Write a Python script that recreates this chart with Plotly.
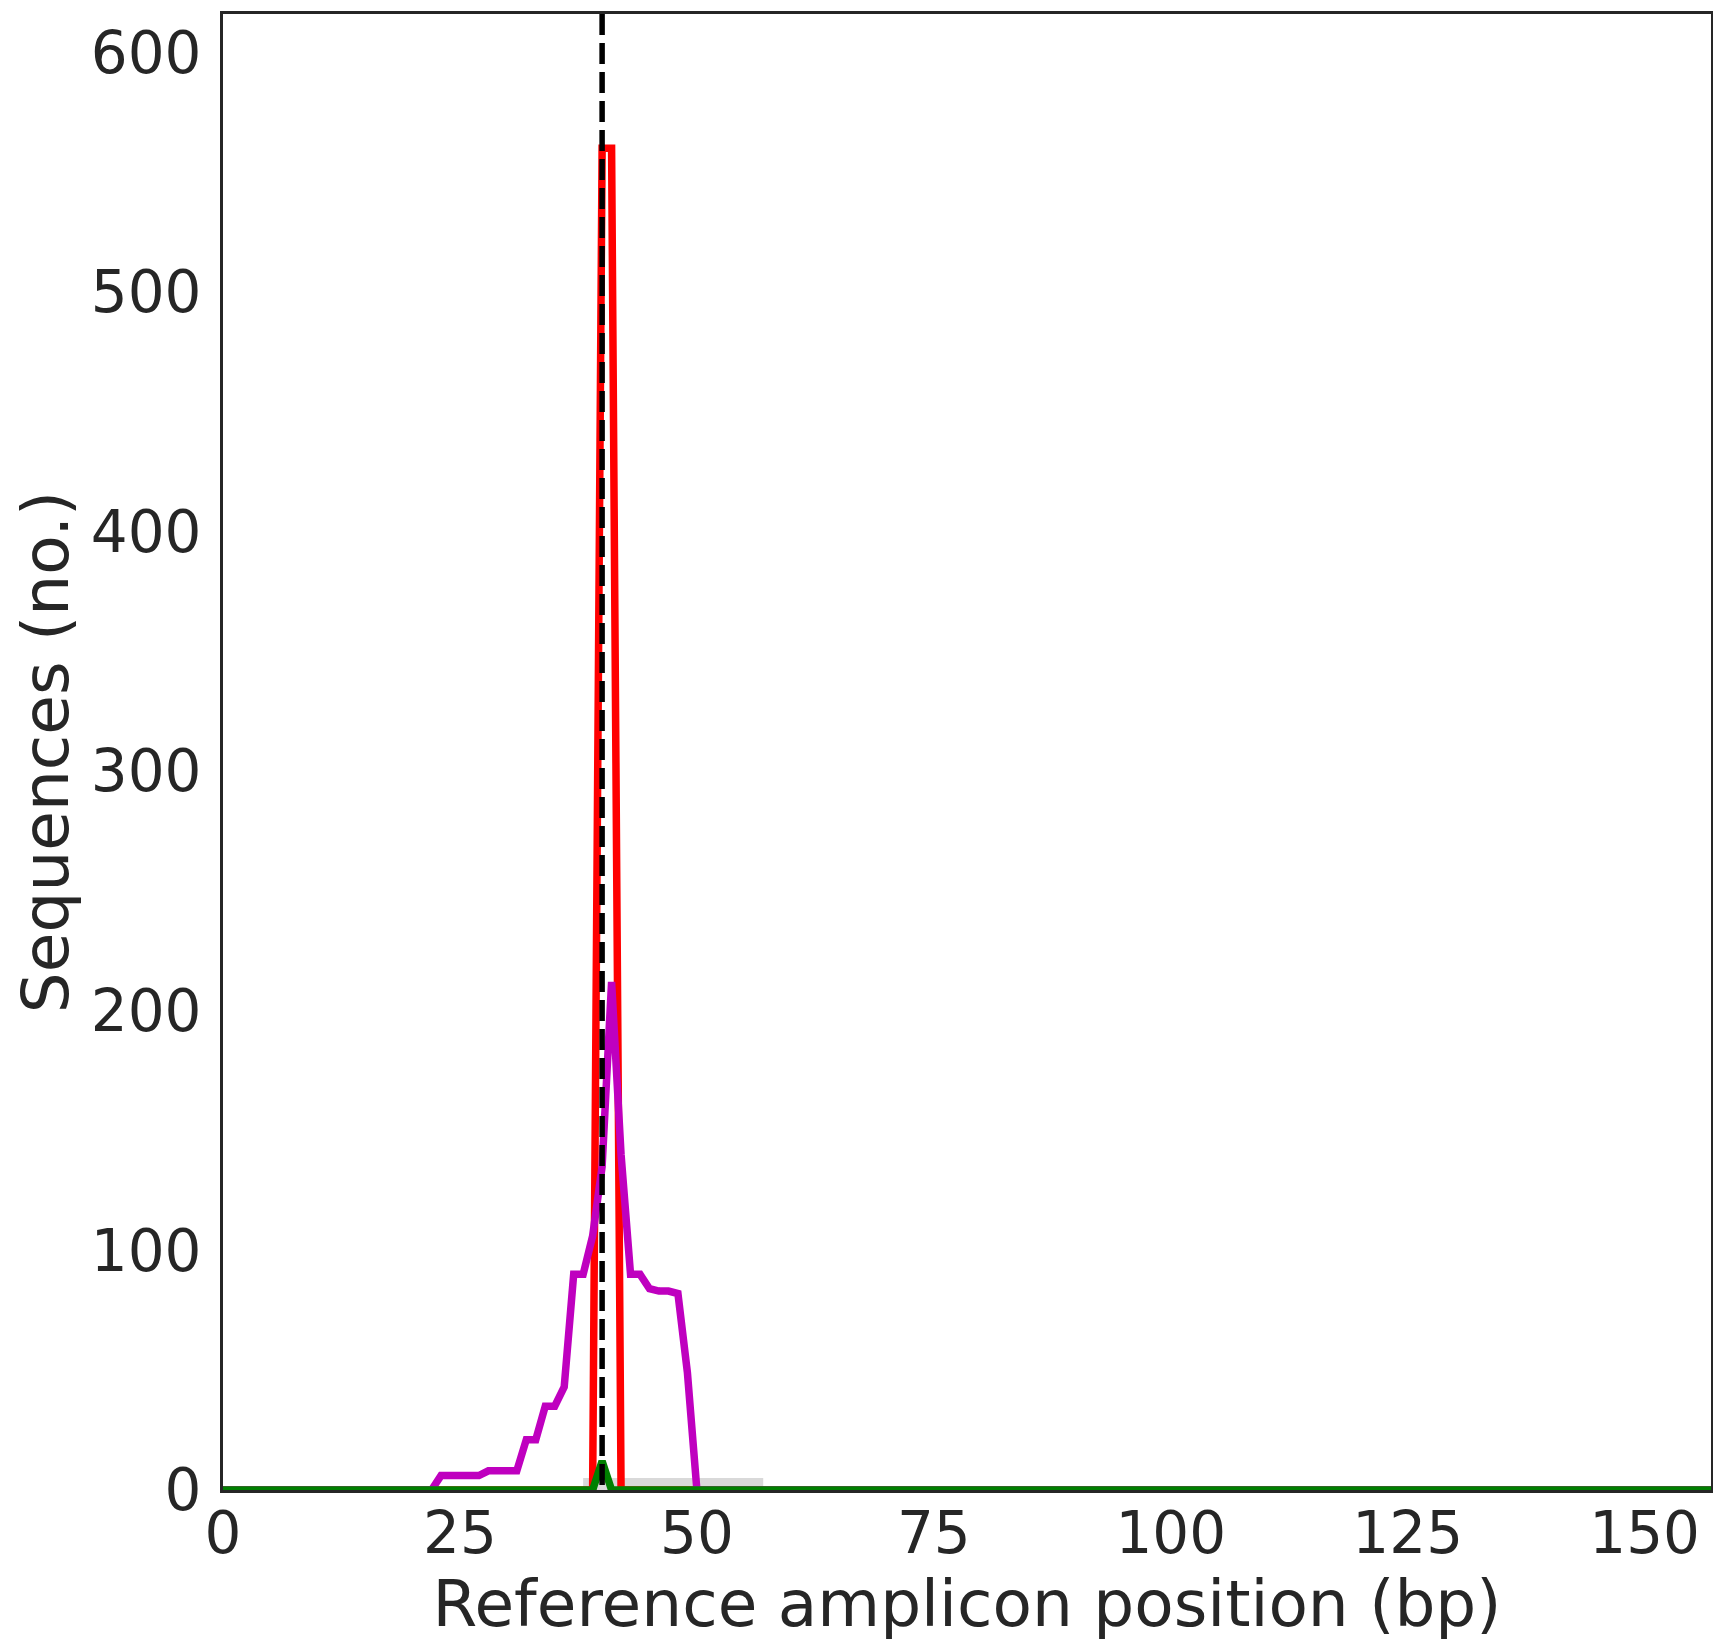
import plotly.graph_objects as go

# ---- data ----
amplicon_length = 158                      # positions 0 .. 157
insertion_start = 39
insertion_counts = [0, 560, 560, 0]
deletion_start = 22
deletion_counts = [0, 6, 6, 6, 6, 6, 8, 8, 8, 8, 21, 21, 35, 35, 43, 90, 90,
                   106, 135, 212, 140, 90, 90, 84, 83, 83, 82, 49, 0]
substitution_start = 39
substitution_counts = [0, 12, 0]
cut_position = 40
window_start, window_end, window_height = 38, 57, 5
y_max = 616
x_ticks = [0, 25, 50, 75, 100, 125, 150]
y_ticks = [0, 100, 200, 300, 400, 500, 600]

positions = list(range(amplicon_length))


def full_vector(start, values):
    vec = [0] * amplicon_length
    for i, v in enumerate(values):
        vec[start + i] = v
    return vec


ins = full_vector(insertion_start, insertion_counts)
dels = full_vector(deletion_start, deletion_counts)
subs = full_vector(substitution_start, substitution_counts)

TEXT = "#262626"
FONT = "DejaVu Sans"

fig = go.Figure()
fig.add_trace(go.Scatter(x=positions, y=ins, mode="lines", name="Insertions",
                         line=dict(color="#ff0000", width=7.5)))
fig.add_trace(go.Scatter(x=positions, y=dels, mode="lines", name="Deletions",
                         line=dict(color="#bf00bf", width=7.5)))
fig.add_trace(go.Scatter(x=positions, y=subs, mode="lines", name="Substitutions",
                         line=dict(color="#008000", width=7.5)))
fig.add_trace(go.Scatter(x=[cut_position, cut_position], y=[y_max, 0], mode="lines",
                         name="Predicted cleavage position",
                         line=dict(color="black", width=5.5, dash="21px,8px")))

fig.add_shape(type="rect", xref="x", yref="y", x0=window_start, x1=window_end,
              y0=0, y1=window_height, fillcolor="#d9d9d9", line=dict(width=0),
              layer="below")

axis_common = dict(showgrid=False, zeroline=False, showline=True, mirror=True,
                   linecolor=TEXT, linewidth=2.8, ticks="", automargin=False,
                   tickfont=dict(family=FONT, size=58, color=TEXT),
                   layer="above traces")

fig.update_xaxes(range=[0, amplicon_length - 1], tickvals=x_ticks,
                 title=dict(text="Reference amplicon position (bp)",
                            font=dict(family=FONT, size=64.5, color=TEXT), standoff=22),
                 ticklabelstandoff=-10, **axis_common)
fig.update_yaxes(range=[0, y_max], tickvals=y_ticks,
                 title=dict(text="Sequences (no.)",
                            font=dict(family=FONT, size=64.5, color=TEXT), standoff=11),
                 ticklabelstandoff=7, **axis_common)

fig.update_layout(width=1713, height=1633, showlegend=False,
                  paper_bgcolor="white", plot_bgcolor="white",
                  margin=dict(l=215, r=10, t=6, b=151),
                  font=dict(family=FONT, color=TEXT))

fig.write_html("out.html")
